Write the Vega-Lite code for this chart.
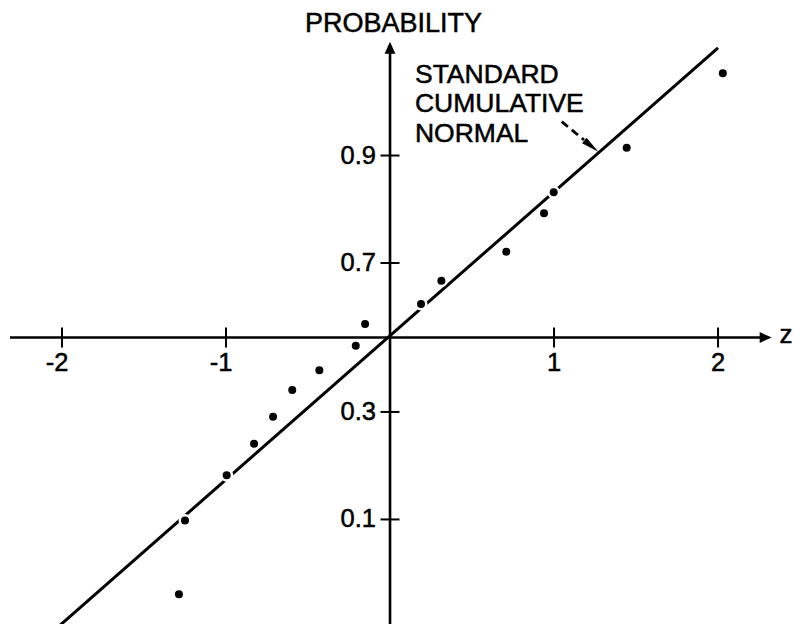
{
  "$schema": "https://vega.github.io/schema/vega-lite/v6.json",
  "width": 793,
  "height": 624,
  "autosize": {"type": "fit", "contains": "padding"},
  "padding": 0,
  "background": "white",
  "config": {"view": {"stroke": null}, "font": "Liberation Sans", "text": {"stroke": "black", "strokeWidth": 0.5}},
  "datasets": {
    "samples": [
      {"z": -1.287, "q": -1.808},
      {"z": -1.250, "q": -1.289},
      {"z": -0.996, "q": -0.970},
      {"z": -0.829, "q": -0.748},
      {"z": -0.713, "q": -0.558},
      {"z": -0.596, "q": -0.370},
      {"z": -0.431, "q": -0.231},
      {"z": -0.209, "q": -0.058},
      {"z": -0.152, "q": 0.095},
      {"z": 0.189, "q": 0.236},
      {"z": 0.313, "q": 0.400},
      {"z": 0.709, "q": 0.604},
      {"z": 0.939, "q": 0.875},
      {"z": 0.998, "q": 1.023},
      {"z": 1.443, "q": 1.337},
      {"z": 2.029, "q": 1.861}
    ]
  },
  "encoding": {
    "x": {"field": "z", "type": "quantitative", "scale": {"domain": [-2.378, 2.457], "nice": false, "zero": false}, "axis": null},
    "y": {"field": "q", "type": "quantitative", "scale": {"domain": [-2.018, 2.377], "nice": false, "zero": false}, "axis": null}
  },
  "layer": [
    {
      "data": {"values": [{"z": -2.03, "q": -2.045}, {"z": 2.0, "q": 2.04}]},
      "mark": {"type": "line", "color": "black", "strokeWidth": 3, "clip": true}
    },
    {
      "data": {"name": "samples"},
      "mark": {"type": "circle", "color": "white", "size": 170, "opacity": 1}
    },
    {
      "data": {"values": [
        {"z": -2.317, "q": 0, "z2": 2.30, "q2": 0},
        {"z": 0, "q": -2.018, "z2": 0, "q2": 2.06}
      ]},
      "mark": {"type": "rule", "color": "black", "strokeWidth": 2.6, "clip": true},
      "encoding": {"x2": {"field": "z2"}, "y2": {"field": "q2"}}
    },
    {
      "data": {"values": [
        {"z": 2.327, "q": 0, "dir": "right"},
        {"z": 0, "q": 2.083, "dir": "up"}
      ]},
      "mark": {"type": "point", "shape": "M0,0L-1,-0.45L-1,0.45Z", "filled": true, "color": "black", "size": 576, "opacity": 1},
      "encoding": {
        "angle": {"field": "dir", "type": "nominal", "scale": {"domain": ["right", "up"], "range": [0, 270]}, "legend": null}
      }
    },
    {
      "data": {"values": [{"z": -2, "q": 0}, {"z": -1, "q": 0}, {"z": 1, "q": 0}, {"z": 2, "q": 0}]},
      "mark": {"type": "tick", "orient": "vertical", "size": 20, "thickness": 2, "color": "black", "opacity": 1}
    },
    {
      "data": {"values": [{"z": 0, "q": 1.2816}, {"z": 0, "q": 0.5244}, {"z": 0, "q": -0.5244}, {"z": 0, "q": -1.2816}]},
      "mark": {"type": "tick", "orient": "horizontal", "size": 19, "thickness": 2, "color": "black", "opacity": 1}
    },
    {
      "data": {"values": [{"z": -2, "q": 0, "label": "-2"}, {"z": -1, "q": 0, "label": "-1"}]},
      "mark": {"type": "text", "fontSize": 25.5, "align": "center", "baseline": "alphabetic", "dy": 34, "dx": -5, "color": "black"},
      "encoding": {"text": {"field": "label"}}
    },
    {
      "data": {"values": [{"z": 1, "q": 0, "label": "1"}, {"z": 2, "q": 0, "label": "2"}]},
      "mark": {"type": "text", "fontSize": 25.5, "align": "center", "baseline": "alphabetic", "dy": 34, "color": "black"},
      "encoding": {"text": {"field": "label"}}
    },
    {
      "data": {"values": [
        {"z": 0, "q": 1.2816, "label": "0.9"},
        {"z": 0, "q": 0.5244, "label": "0.7"},
        {"z": 0, "q": -0.5244, "label": "0.3"},
        {"z": 0, "q": -1.2816, "label": "0.1"}
      ]},
      "mark": {"type": "text", "fontSize": 25.5, "align": "right", "baseline": "middle", "dx": -14, "color": "black"},
      "encoding": {"text": {"field": "label"}}
    },
    {
      "data": {"values": [{"z": 0.021, "q": 2.151, "label": "PROBABILITY"}]},
      "mark": {"type": "text", "fontSize": 27, "align": "center", "baseline": "alphabetic", "color": "black"},
      "encoding": {"text": {"field": "label"}}
    },
    {
      "data": {"values": [{"z": 2.415, "q": -0.041, "label": "z"}]},
      "mark": {"type": "text", "fontSize": 26, "align": "center", "baseline": "alphabetic", "color": "black"},
      "encoding": {"text": {"field": "label"}}
    },
    {
      "data": {"values": [{"z": 0.152, "q": 1.794}]},
      "mark": {"type": "text", "fontSize": 26.5, "align": "left", "baseline": "alphabetic", "lineHeight": 29.5, "color": "black",
               "text": ["STANDARD", "CUMULATIVE", "NORMAL"]}
    },
    {
      "data": {"values": [{"z": 1.047, "q": 1.520, "z2": 1.183, "q2": 1.391}]},
      "mark": {"type": "rule", "color": "black", "strokeWidth": 2.8, "strokeDash": [8, 5]},
      "encoding": {"x2": {"field": "z2"}, "y2": {"field": "q2"}}
    },
    {
      "data": {"values": [{"z": 1.270, "q": 1.308}]},
      "mark": {"type": "point", "shape": "M0,0L-1,-0.2L-1,0.2Z", "filled": true, "color": "black", "size": 1296, "angle": 39, "opacity": 1}
    },
    {
      "data": {"name": "samples"},
      "mark": {"type": "circle", "color": "black", "size": 64, "opacity": 1}
    }
  ]
}
